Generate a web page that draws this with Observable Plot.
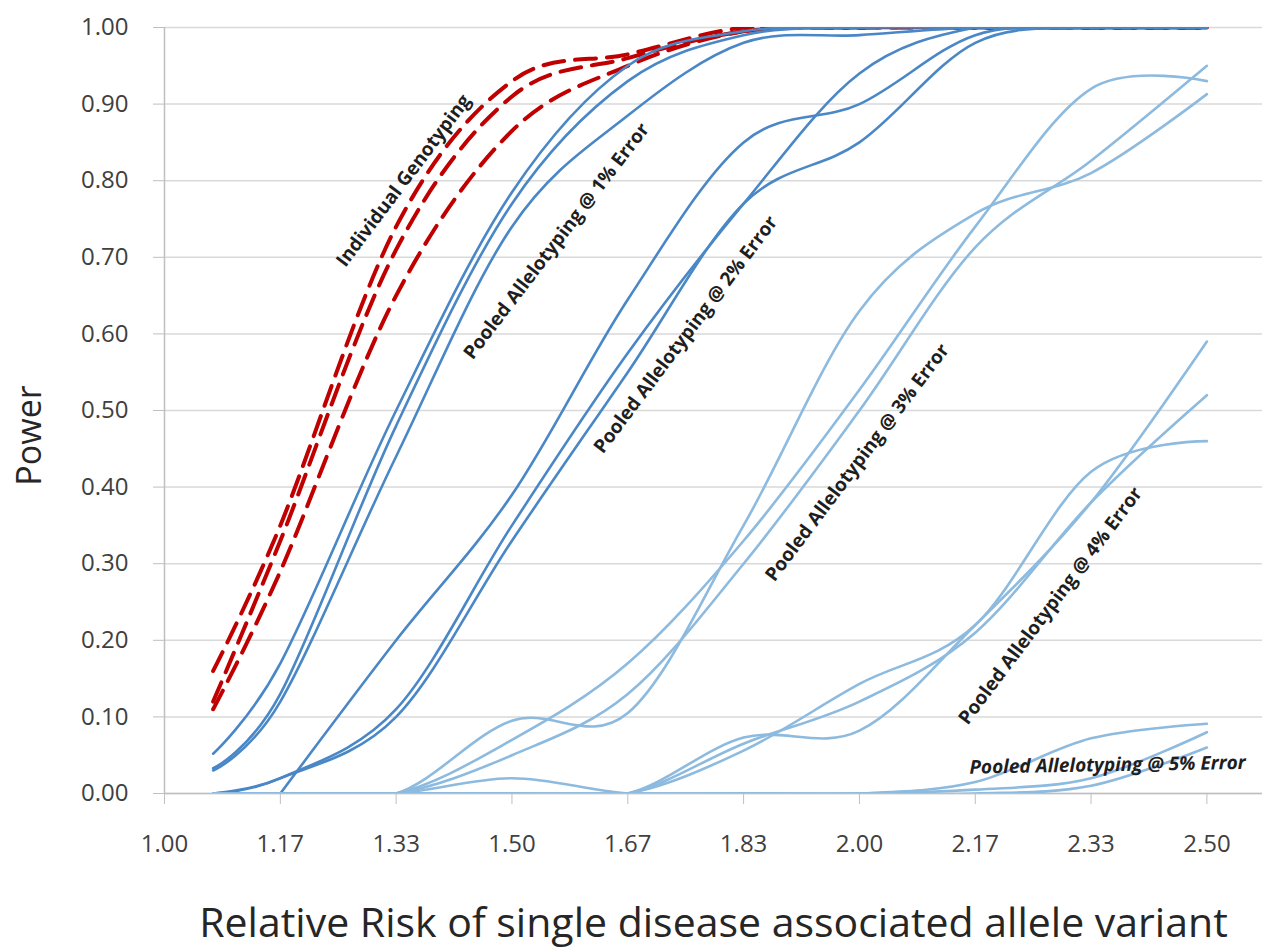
<!DOCTYPE html>
<html><head><meta charset="utf-8">
<script src="https://cdn.jsdelivr.net/npm/d3@7"></script>
<script src="https://cdn.jsdelivr.net/npm/@observablehq/plot@0.6"></script>
<style>
html,body{margin:0;padding:0;background:#fff;}
#chart{width:1270px;height:951px;}
</style></head><body><div id="chart"></div>
<script>
// Relative risk values at which power was computed
const relativeRisk = [1.07, 1.1667, 1.3333, 1.5, 1.6667, 1.8333, 2.0, 2.1667, 2.3333, 2.5];
const xTicks = [1.0, 1.1667, 1.3333, 1.5, 1.6667, 1.8333, 2.0, 2.1667, 2.3333, 2.5];
const yTicks = [0, 0.1, 0.2, 0.3, 0.4, 0.5, 0.6, 0.7, 0.8, 0.9, 1.0];

// Individual genotyping (red dashed)
const indiv1 = [0.16, 0.35, 0.74, 0.93, 0.965, 1.0, 1.0, 1.0, 1.0, 1.0];
const indiv2 = [0.12, 0.33, 0.71, 0.91, 0.96, 0.995, 1.0, 1.0, 1.0, 1.0];
const indiv3 = [0.11, 0.29, 0.65, 0.865, 0.95, 0.995, 1.0, 1.0, 1.0, 1.0];
// Pooled allelotyping @ 1% error
const err1a = [0.052, 0.17, 0.50, 0.785, 0.95, 0.995, 1.0, 1.0, 1.0, 1.0];
const err1b = [0.033, 0.13, 0.48, 0.77, 0.93, 0.99, 1.0, 1.0, 1.0, 1.0];
const err1c = [0.030, 0.12, 0.44, 0.74, 0.885, 0.98, 0.99, 1.0, 1.0, 1.0];
// Pooled allelotyping @ 2% error
const err2a = [null, 0.0, 0.20, 0.39, 0.645, 0.85, 0.90, 0.99, 1.0, 1.0];
const err2b = [0.0, 0.02, 0.11, 0.35, 0.575, 0.77, 0.94, 1.0, 1.0, 1.0];
const err2c = [0.0, 0.02, 0.10, 0.33, 0.55, 0.77, 0.85, 0.98, 1.0, 1.0];
// Pooled allelotyping @ 3% error
const err3a = [0.0, 0.0, 0.0, 0.095, 0.105, 0.35, 0.63, 0.757, 0.81, 0.913];
const err3b = [0.0, 0.0, 0.0, 0.07, 0.17, 0.33, 0.527, 0.74, 0.92, 0.93];
const err3c = [0.0, 0.0, 0.0, 0.05, 0.13, 0.30, 0.50, 0.713, 0.826, 0.95];
// Pooled allelotyping @ 4% error
const err4a = [0.0, 0.0, 0.0, 0.0, 0.0, 0.073, 0.082, 0.22, 0.38, 0.59];
const err4b = [0.0, 0.0, 0.0, 0.0, 0.0, 0.056, 0.143, 0.22, 0.42, 0.46];
const err4c = [0.0, 0.0, 0.0, 0.0, 0.0, 0.065, 0.12, 0.21, 0.38, 0.52];
// Pooled allelotyping @ 5% error
const err5a = [0.0, 0.0, 0.0, 0.02, 0.0, 0.0, 0.0, 0.015, 0.072, 0.091];
const err5b = [0.0, 0.0, 0.0, 0.0, 0.0, 0.0, 0.0, 0.005, 0.02, 0.08];
const err5c = [0.0, 0.0, 0.0, 0.0, 0.0, 0.0, 0.0, 0.0, 0.01, 0.06];

const annotations = [
  {text: "Individual Genotyping", x: 1.344, y: 0.80, angle: -53},
  {text: "Pooled Allelotyping @ 1% Error", x: 1.564, y: 0.721, angle: -52.5},
  {text: "Pooled Allelotyping @ 2% Error", x: 1.750, y: 0.599, angle: -53},
  {text: "Pooled Allelotyping @ 3% Error", x: 1.997, y: 0.432, angle: -53},
  {text: "Pooled Allelotyping @ 4% Error", x: 2.275, y: 0.245, angle: -53}
];
const annotation5 = [{text: "Pooled Allelotyping @ 5% Error", x: 2.357, y: 0.037, angle: -1}];

const xTitle = "Relative Risk of single disease associated allele variant";
const yTitle = "Power";

function rows(group, list) {
  const out = [];
  list.forEach((vals, i) => vals.forEach((v, j) => out.push({group, series: group + "-" + i, x: relativeRisk[j], y: v})));
  return out;
}
const redRows = rows("indiv", [indiv1, indiv2, indiv3]);
const darkRows = rows("low", [err1a, err1b, err1c, err2a, err2b, err2c]);
const lightRows = rows("high", [err3a, err3b, err3c, err4a, err4b, err4c, err5a, err5b, err5c]);

const chart = Plot.plot({
  width: 1270, height: 951,
  marginLeft: 164, marginRight: 8, marginTop: 27, marginBottom: 158,
  style: {fontFamily: "'Open Sans', sans-serif", background: "#fff", overflow: "visible"},
  x: {domain: [1, 2.58]},
  y: {domain: [0, 1]},
  marks: [
    Plot.gridY(yTicks, {stroke: "#d9d9d9", strokeOpacity: 1, strokeWidth: 1.5}),
    Plot.ruleY([0], {stroke: "#bfbfbf", strokeWidth: 1.5}),
    Plot.ruleX([1], {stroke: "#bfbfbf", strokeWidth: 1.5}),
    Plot.axisY({ticks: yTicks, tickFormat: d3.format(".2f"), tickSize: 11, tickPadding: 25, fontSize: 24, label: null, stroke: "#bfbfbf", fill: "#404040"}),
    Plot.axisX({ticks: xTicks, tickFormat: d3.format(".2f"), tickSize: 11, tickPadding: 30, fontSize: 24, label: null, stroke: "#bfbfbf", fill: "#404040"}),
    Plot.line(redRows, {x: "x", y: "y", z: "series", stroke: "#c00000", strokeWidth: 4, strokeDasharray: "21,11", strokeLinecap: "round", curve: "cardinal", clip: true}),
    Plot.line(darkRows, {x: "x", y: "y", z: "series", stroke: "#4a87c6", strokeWidth: 2.6, curve: "cardinal", clip: true}),
    Plot.line(lightRows, {x: "x", y: "y", z: "series", stroke: "#8dbadf", strokeWidth: 2.6, curve: "cardinal", clip: true}),
    Plot.text(annotations, {x: "x", y: "y", text: "text", rotate: "angle", fontSize: 19, fontWeight: "bold", fill: "#1e1e1e"}),
    Plot.text(annotation5, {x: "x", y: "y", text: "text", rotate: "angle", fontSize: 19, fontWeight: "bold", fontStyle: "italic", fill: "#1e1e1e"}),
    Plot.text([yTitle], {frameAnchor: "left", textAnchor: "middle", lineAnchor: "middle", dx: -134, dy: 25, rotate: -90, fontSize: 34, fill: "#262626"}),
    Plot.text([xTitle], {frameAnchor: "bottom", dy: 143, fontSize: 41, fill: "#262626"})
  ]
});
document.getElementById("chart").appendChild(chart);
</script>
</body></html>
